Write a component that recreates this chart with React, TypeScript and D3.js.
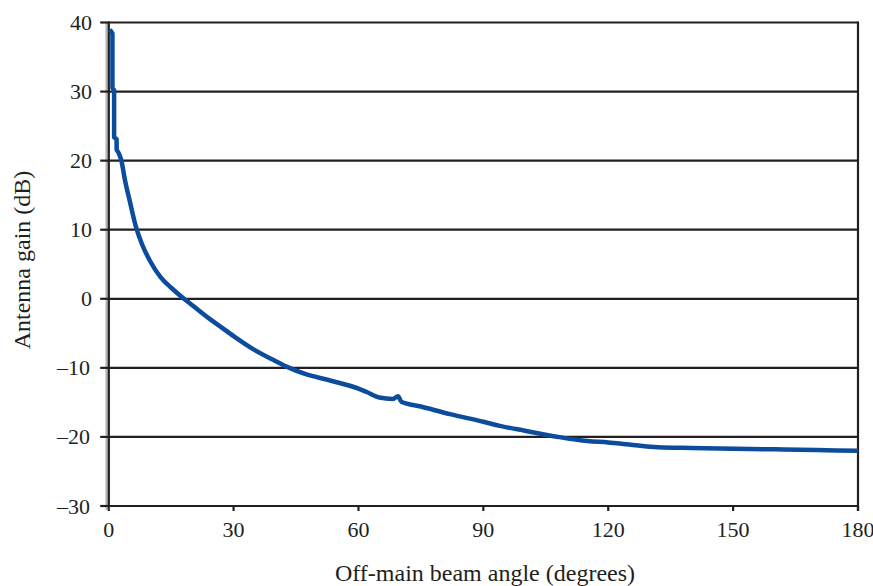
import React from "react";
import * as d3 from "d3";

const angles = [0.25, 0.9, 0.9, 1.3, 1.3, 1.9, 1.9, 2.4, 3.0, 4.0, 5.0, 6.6, 8, 10, 12.5, 15, 17.5, 20, 24, 27, 30, 35, 40, 43, 47, 53, 60, 62, 65, 68.3, 69.5, 70.3, 75, 82, 90, 94, 100, 108, 115, 120, 125, 132, 140, 150, 160, 170, 180];
const gains = [39.0, 38.4, 30.5, 30.2, 23.4, 23.1, 21.6, 21.1, 20.1, 16.9, 14.3, 10.3, 7.9, 5.4, 3.1, 1.6, 0.3, -0.9, -2.8, -4.1, -5.4, -7.4, -9.0, -9.9, -10.85, -11.8, -13.0, -13.5, -14.3, -14.5, -14.1, -14.9, -15.6, -16.7, -17.8, -18.4, -19.1, -20.0, -20.6, -20.8, -21.1, -21.5, -21.6, -21.7, -21.8, -21.9, -22.0];
const xTicks = [0, 30, 60, 90, 120, 150, 180];
const yTicks = [40, 30, 20, 10, 0, -10, -20, -30];
const xTitle = "Off-main beam angle (degrees)";
const yTitle = "Antenna gain (dB)";

const W = 873, H = 586;
const L = 108.7, R = 858, T = 22.5, B = 506;
const ink = "#231f20";
const blue = "#0b4c9c";
const font = "'Liberation Serif', 'Times New Roman', serif";

export default function App() {
  const x = d3.scaleLinear().domain([0, 180]).range([L, R]);
  const y = d3.scaleLinear().domain([-30, 40]).range([B, T]);
  const pts = angles.map((a, i) => [a, gains[i]] as [number, number]);
  const split = 7;
  const stepLine = d3.line<[number, number]>().x(d => x(d[0])).y(d => y(d[1]));
  const smoothLine = d3.line<[number, number]>().x(d => x(d[0])).y(d => y(d[1])).curve(d3.curveMonotoneX);
  const d1 = stepLine(pts.slice(0, split + 1)) || "";
  const d2 = smoothLine(pts.slice(split)) || "";
  const fmt = (v: number) => (v < 0 ? "\u2013" + Math.abs(v) : String(v));
  return (
    <div style={{ position: "fixed", left: 0, top: 0, width: W, height: H, background: "#fff" }}>
      <svg width={W} height={H} style={{ display: "block" }}>
        <rect width={W} height={H} fill="#fff" />
        <line x1={L - 2.5} x2={L - 2.5} y1={T} y2={B + 4} stroke="#b5b5b5" strokeWidth={1.5} />
        {yTicks.map(t => (
          <line key={"g" + t} x1={L} x2={R} y1={y(t)} y2={y(t)} stroke={ink} strokeWidth={2.2} />
        ))}
        {yTicks.map(t => (
          <line key={"yt" + t} x1={L - 8.5} x2={L} y1={y(t)} y2={y(t)} stroke={ink} strokeWidth={2.2} />
        ))}
        {xTicks.map(t => (
          <line key={"xt" + t} x1={x(t)} x2={x(t)} y1={B} y2={B + 5} stroke={ink} strokeWidth={2.2} />
        ))}
        <line x1={L} x2={L} y1={T - 1} y2={B + 1} stroke={ink} strokeWidth={2.4} />
        <line x1={R} x2={R} y1={T - 1} y2={B + 5} stroke={ink} strokeWidth={2.2} />
        <path d={d1 + d2.replace(/^M/, "L")} fill="none" stroke={blue} strokeWidth={4.5} strokeLinejoin="round" strokeLinecap="butt" />
        {yTicks.map(t => (
          <text key={"yl" + t} x={t < 0 ? 90 : 92} y={y(t) + 7.5} textAnchor="end" fontFamily={font} fontSize={22} fill={ink}>
            {fmt(t)}
          </text>
        ))}
        {xTicks.map(t => (
          <text key={"xl" + t} x={x(t)} y={537} textAnchor="middle" fontFamily={font} fontSize={22} fill={ink}>
            {fmt(t)}
          </text>
        ))}
        <text x={485} y={581} textAnchor="middle" fontFamily={font} fontSize={24} fill={ink}>
          {xTitle}
        </text>
        <text transform={`translate(30,260) rotate(-90)`} textAnchor="middle" fontFamily={font} fontSize={24} fill={ink}>
          {yTitle}
        </text>
      </svg>
    </div>
  );
}
